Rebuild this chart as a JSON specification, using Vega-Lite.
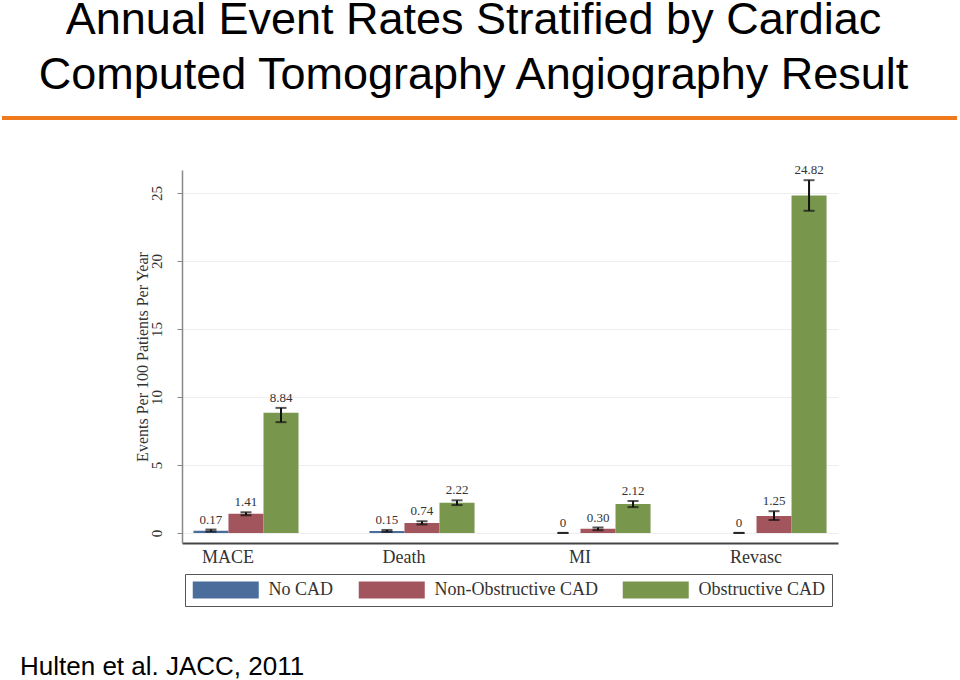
{
  "$schema": "https://vega.github.io/schema/vega-lite/v6.json",
  "autosize": {"type": "none"},
  "padding": {"left": 2, "top": 116, "right": 958, "bottom": 564},
  "background": "white",
  "config": {"view": {"stroke": null}, "font": "Liberation Sans"},
  "spacing": 50,
  "bounds": "flush",
  "resolve": {"scale": {"x": "independent", "y": "independent"}},
  "vconcat": [
    {
      "width": 955,
      "height": 4,
      "title": {
        "text": ["Annual Event Rates Stratified by Cardiac", "Computed Tomography Angiography Result"],
        "fontSize": 45,
        "font": "Liberation Sans",
        "fontWeight": "normal",
        "color": "#000000",
        "lineHeight": 55,
        "anchor": "middle",
        "frame": "group",
        "baseline": "bottom",
        "dx": -6,
        "dy": 43,
        "offset": 16
      },
      "data": {"values": [{"level": 0}]},
      "mark": {"type": "rule", "color": "#EF7A1E", "strokeWidth": 4},
      "encoding": {
        "y": {"field": "level", "type": "quantitative", "scale": {"domain": [-1, 1]}, "axis": null}
      }
    },
    {
      "spacing": 0,
      "bounds": "flush",
      "hconcat": [
        {
          "width": 180,
          "height": 373,
          "title": {
            "text": "Hulten et al. JACC, 2011",
            "orient": "bottom",
            "anchor": "start",
            "frame": "group",
            "fontSize": 26,
            "font": "Liberation Sans",
            "fontWeight": "normal",
            "color": "#000000",
            "baseline": "alphabetic",
            "offset": 132,
            "dx": 18
          },
          "data": {"values": []},
          "mark": "point"
        },
        {
          "width": 656,
          "height": 373,
          "data": {
            "values": [
              {"event": "MACE", "group": "No CAD", "value": 0.17, "lo": 0.1, "hi": 0.25, "label": "0.17"},
              {"event": "MACE", "group": "Non-Obstructive CAD", "value": 1.41, "lo": 1.3, "hi": 1.52, "label": "1.41"},
              {"event": "MACE", "group": "Obstructive CAD", "value": 8.84, "lo": 8.15, "hi": 9.2, "label": "8.84"},
              {"event": "Death", "group": "No CAD", "value": 0.15, "lo": 0.08, "hi": 0.22, "label": "0.15"},
              {"event": "Death", "group": "Non-Obstructive CAD", "value": 0.74, "lo": 0.62, "hi": 0.86, "label": "0.74"},
              {"event": "Death", "group": "Obstructive CAD", "value": 2.22, "lo": 2.05, "hi": 2.4, "label": "2.22"},
              {"event": "MI", "group": "No CAD", "value": 0, "lo": 0, "hi": 0, "label": "0"},
              {"event": "MI", "group": "Non-Obstructive CAD", "value": 0.3, "lo": 0.2, "hi": 0.4, "label": "0.30"},
              {"event": "MI", "group": "Obstructive CAD", "value": 2.12, "lo": 1.9, "hi": 2.35, "label": "2.12"},
              {"event": "Revasc", "group": "No CAD", "value": 0, "lo": 0, "hi": 0, "label": "0"},
              {"event": "Revasc", "group": "Non-Obstructive CAD", "value": 1.25, "lo": 0.95, "hi": 1.6, "label": "1.25"},
              {"event": "Revasc", "group": "Obstructive CAD", "value": 24.82, "lo": 23.7, "hi": 25.95, "label": "24.82"}
            ]
          },
          "encoding": {
            "x": {
              "field": "event",
              "type": "nominal",
              "sort": ["MACE", "Death", "MI", "Revasc"],
              "scale": {"paddingInner": 0.403, "paddingOuter": 0.065},
              "axis": {
                "title": null,
                "labelAngle": 0,
                "ticks": false,
                "domainColor": "#444444",
                "domainWidth": 2,
                "labelFont": "Liberation Serif",
                "labelFontSize": 18,
                "labelColor": "#333333",
                "labelPadding": 5,
                "labelBaseline": "top",
                "labelOffset": -18
              }
            },
            "xOffset": {
              "field": "group",
              "type": "nominal",
              "sort": ["No CAD", "Non-Obstructive CAD", "Obstructive CAD"],
              "scale": {"paddingInner": 0, "paddingOuter": 0}
            }
          },
          "layer": [
            {
              "mark": {"type": "bar"},
              "encoding": {
                "y": {
                  "field": "value",
                  "type": "quantitative",
                  "title": "Events Per 100 Patients Per Year",
                  "scale": {"domain": [-0.74, 26.7], "nice": false, "zero": false},
                  "axis": {
                    "values": [0, 5, 10, 15, 20, 25],
                    "domainColor": "#888888",
                    "domainWidth": 1.5,
                    "tickColor": "#888888",
                    "tickSize": 5,
                    "tickWidth": 1,
                    "labelAngle": -90,
                    "labelAlign": "center",
                    "labelBaseline": "alphabetic",
                    "labelPadding": 16,
                    "labelFont": "Liberation Serif",
                    "labelFontSize": 15,
                    "labelColor": "#333333",
                    "grid": true,
                    "gridColor": "#eeeeee",
                    "titleFont": "Liberation Serif",
                    "titleFontSize": 16,
                    "titleFontWeight": "normal",
                    "titleColor": "#333333",
                    "titleAngle": -90,
                    "titleAlign": "center",
                    "titleBaseline": "alphabetic",
                    "titleX": -35,
                    "titleY": 186.5
                  }
                },
                "y2": {"datum": 0},
                "color": {
                  "field": "group",
                  "type": "nominal",
                  "scale": {
                    "domain": ["No CAD", "Non-Obstructive CAD", "Obstructive CAD"],
                    "range": ["#4A6D9B", "#A3555D", "#78974D"]
                  },
                  "legend": {
                    "title": null,
                    "orient": "none",
                    "legendX": 183,
                    "legendY": 458,
                    "direction": "horizontal",
                    "symbolType": "M-1,-1.03H7V1.03H-1Z",
                    "symbolSize": 272.25,
                    "symbolStrokeWidth": 0,
                    "symbolOpacity": 1,
                    "labelFont": "Liberation Serif",
                    "labelFontSize": 18,
                    "labelColor": "#333333",
                    "labelLimit": 400,
                    "labelOffset": 58.5,
                    "columnPadding": 24,
                    "padding": 7,
                    "strokeColor": "#555555",
                    "fillColor": "#ffffff"
                  }
                }
              }
            },
            {
              "mark": {"type": "rule", "color": "#111111", "strokeWidth": 2},
              "encoding": {
                "y": {"field": "lo", "type": "quantitative", "title": "Events Per 100 Patients Per Year"},
                "y2": {"field": "hi"}
              }
            },
            {
              "mark": {"type": "tick", "color": "#111111", "thickness": 2, "size": 11, "orient": "horizontal"},
              "encoding": {
                "y": {"field": "lo", "type": "quantitative", "title": "Events Per 100 Patients Per Year"}
              }
            },
            {
              "mark": {"type": "tick", "color": "#111111", "thickness": 2, "size": 11, "orient": "horizontal"},
              "encoding": {
                "y": {"field": "hi", "type": "quantitative", "title": "Events Per 100 Patients Per Year"}
              }
            },
            {
              "mark": {"type": "text", "baseline": "bottom", "dy": -3, "fontSize": 13, "font": "Liberation Serif", "color": "#333333"},
              "encoding": {
                "y": {"field": "hi", "type": "quantitative", "title": "Events Per 100 Patients Per Year"},
                "text": {"field": "label"}
              }
            }
          ]
        }
      ]
    }
  ]
}
